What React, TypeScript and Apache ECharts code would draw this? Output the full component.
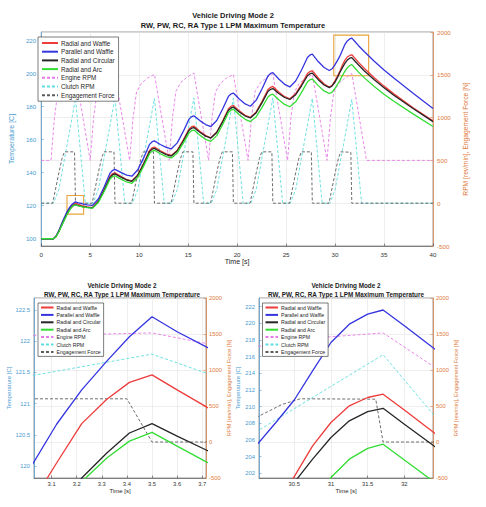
import React, { useEffect, useRef } from 'react';
import * as echarts from 'echarts';

// ---------- DATA ----------
const seriesNames = ['Radial and Waffle', 'Parallel and Waffle', 'Radial and Circular', 'Radial and Arc', 'Engine RPM', 'Clutch RPM', 'Engagement Force'];

const tempTime = [0, 1.25, 1.5, 1.8, 2.2, 2.6, 2.9, 3.02, 3.12, 3.22, 3.32, 3.41, 3.5, 3.6, 3.72, 4.2, 4.7, 5.23,
  5.83, 6.43, 7.03, 7.3, 7.53, 8.13, 8.73, 9.26,
  9.86, 10.46, 11.06, 11.33, 11.56, 12.16, 12.76, 13.29,
  13.89, 14.49, 15.09, 15.36, 15.59, 16.19, 16.79, 17.32,
  17.92, 18.52, 19.12, 19.39, 19.62, 20.22, 20.82, 21.35,
  21.95, 22.55, 23.15, 23.42, 23.65, 24.25, 24.85, 25.38,
  25.98, 26.58, 27.18, 27.45, 27.68, 28.28, 28.88, 29.41,
  29.7, 30.0, 30.25, 30.5, 30.75, 31.0, 31.25, 31.5, 31.71, 32.0, 32.4, 33, 34, 35, 36, 38, 40];

const radialWaffle = [100, 100, 101.3, 104.6, 110.0, 115.2, 118.3, 119.4, 120.05, 120.68, 121.07, 121.34, 121.46, 121.22, 120.94, 119.95, 119.3, 118.9,
  122.7, 129.9, 137.9, 139.5, 140.0, 137.8, 135.9, 135.0,
  138.7, 145.7, 153.5, 155.1, 155.6, 153.3, 151.4, 150.5,
  153.7, 159.8, 166.5, 167.9, 168.3, 165.1, 162.5, 161.2,
  164.7, 171.4, 178.8, 180.3, 180.8, 177.5, 174.8, 173.5,
  176.9, 183.3, 190.4, 191.8, 192.3, 188.9, 186.1, 184.8,
  187.9, 193.6, 200.1, 201.4, 201.8, 197.4, 193.8, 192.0,
  193.0, 195.8, 198.6, 201.6, 205.3, 208.1, 210.1, 211.1, 211.5, 209.6, 206.9, 203.2, 197.6, 192.5, 187.8, 179.2, 171.5];

const parallelWaffle = [100, 100, 101.5, 105.0, 110.8, 116.0, 119.0, 120.0, 120.67, 121.22, 121.68, 122.07, 122.39, 122.15, 121.9, 121.1, 120.5, 120.2,
  124.1, 131.5, 139.8, 141.5, 142.0, 140.2, 138.6, 137.9,
  141.8, 149.0, 157.2, 158.8, 159.3, 157.1, 155.4, 154.5,
  158.1, 164.9, 172.5, 174.0, 174.5, 171.6, 169.2, 168.0,
  171.7, 178.6, 186.3, 187.8, 188.3, 184.7, 181.7, 180.3,
  184.0, 190.9, 198.7, 200.2, 200.7, 196.8, 193.6, 192.0,
  195.6, 202.3, 209.9, 211.4, 211.9, 207.4, 203.8, 202.0,
  203.0, 205.5, 208.1, 210.8, 214.3, 217.7, 219.9, 221.1, 221.6, 219.7, 217.0, 213.3, 207.6, 202.3, 197.4, 188.0, 179.0];

const radialCircular = [100, 100, 101.2, 104.4, 109.6, 114.6, 117.6, 118.6, 119.25, 119.81, 120.21, 120.53, 120.68, 120.48, 120.25, 119.5, 119.0, 118.7,
  122.4, 129.4, 137.2, 138.8, 139.3, 137.3, 135.6, 134.8,
  138.4, 145.2, 152.8, 154.3, 154.8, 152.7, 151.0, 150.1,
  153.2, 159.1, 165.7, 167.0, 167.4, 164.5, 162.2, 161.0,
  164.4, 170.8, 177.9, 179.3, 179.8, 176.8, 174.4, 173.2,
  176.4, 182.5, 189.2, 190.6, 191.0, 188.0, 185.6, 184.4,
  187.3, 192.7, 198.8, 200.0, 200.4, 196.4, 193.2, 191.6,
  192.6, 195.0, 197.8, 200.9, 203.7, 206.3, 208.3, 209.4, 209.8, 207.9, 205.3, 201.7, 196.4, 191.5, 187.0, 178.8, 171.0];

const radialArc = [100, 100, 101.1, 104.2, 109.3, 114.3, 117.3, 118.4, 119.15, 119.75, 120.13, 120.40, 120.54, 120.32, 120.06, 119.3, 118.8, 118.5,
  122.0, 128.7, 136.2, 137.7, 138.2, 136.1, 134.4, 133.6,
  137.2, 144.0, 151.6, 153.1, 153.6, 151.5, 149.8, 149.0,
  152.0, 157.8, 164.2, 165.5, 165.9, 162.8, 160.2, 159.0,
  162.5, 169.1, 176.6, 178.0, 178.5, 175.1, 172.4, 171.0,
  174.0, 179.6, 185.9, 187.2, 187.6, 184.2, 181.4, 180.0,
  183.0, 188.7, 195.1, 196.4, 196.8, 192.8, 189.6, 188.0,
  188.9, 191.2, 193.5, 196.0, 198.9, 201.5, 203.7, 205.0, 205.5, 203.6, 201.0, 197.5, 192.3, 187.6, 183.3, 175.5, 168.0];

const engineTime = [0, 1.0, 1.35, 1.7, 2.2, 2.8, 3.2, 3.5,
  5.0, 5.35, 5.7, 6.2, 6.8, 7.53,
  9.03, 9.38, 9.73, 10.23, 10.83, 11.56,
  13.06, 13.41, 13.76, 14.26, 14.86, 15.59,
  17.09, 17.44, 17.79, 18.29, 18.89, 19.62,
  21.12, 21.47, 21.82, 22.32, 22.92, 23.65,
  25.15, 25.5, 25.85, 26.35, 26.95, 27.68,
  29.18, 29.53, 29.88, 30.38, 30.98, 31.71, 33.21, 40];
const engineRpm = [500, 500, 1000, 1300, 1400, 1460, 1490, 1515,
  500, 1000, 1300, 1400, 1455, 1500,
  500, 1000, 1300, 1400, 1460, 1505,
  500, 1010, 1310, 1410, 1470, 1520,
  500, 1000, 1300, 1400, 1460, 1505,
  500, 1000, 1300, 1400, 1460, 1510,
  500, 1000, 1300, 1400, 1455, 1505,
  500, 1000, 1300, 1400, 1460, 1515, 500, 500];

const clutchTime = [0, 1.25, 1.8, 3.5, 4.5,
  5.28, 5.83, 7.53, 8.53,
  9.31, 9.86, 11.56, 12.56,
  13.34, 13.89, 15.59, 16.59,
  17.37, 17.92, 19.62, 20.62,
  21.4, 21.95, 23.65, 24.65,
  25.43, 25.98, 27.68, 28.68,
  29.46, 30.01, 31.71, 32.71, 40];
const clutchRpm = [0, 0, 160, 1220, 0,
  0, 160, 1230, 0,
  0, 160, 1225, 0,
  0, 160, 1230, 0,
  0, 160, 1225, 0,
  0, 160, 1230, 0,
  0, 160, 1225, 0,
  0, 160, 1212, 0, 0];

const forceTime = [0, 1.17, 1.81, 2.12, 2.37, 3.4, 3.5,
  5.2, 5.84, 6.15, 6.4, 7.43, 7.53,
  9.23, 9.87, 10.18, 10.43, 11.46, 11.56,
  13.26, 13.9, 14.21, 14.46, 15.49, 15.59,
  17.29, 17.93, 18.24, 18.49, 19.52, 19.62,
  21.32, 21.96, 22.27, 22.52, 23.55, 23.65,
  25.35, 25.99, 26.3, 26.55, 27.58, 27.68,
  29.38, 30.02, 30.33, 30.58, 31.61, 31.71, 40];
const engagementForce = [0, 0, 360, 520, 600, 600, 0,
  0, 360, 520, 600, 600, 0,
  0, 360, 520, 600, 600, 0,
  0, 360, 520, 600, 600, 0,
  0, 360, 520, 600, 600, 0,
  0, 360, 520, 600, 600, 0,
  0, 360, 520, 600, 600, 0,
  0, 360, 520, 600, 595, 0, 0];

// tick labels
const mainTimeTicks = [0, 5, 10, 15, 20, 25, 30, 35, 40];
const mainTempTicks = [100, 120, 140, 160, 180, 200, 220];
const rightTicks = [-500, 0, 500, 1000, 1500, 2000];
const zoom1TimeTicks = [3.1, 3.2, 3.3, 3.4, 3.5, 3.6, 3.7];
const zoom1TempTicks = [120, 120.5, 121, 121.5, 122, 122.5];
const zoom2TimeTicks = [30.5, 31, 31.5, 32];
const zoom2TempTicks = [202, 204, 206, 208, 210, 212, 214, 216, 218, 220, 222];

// axis ranges [time min, time max, temp min, temp max]
const mainRange = [0, 40, 95.6, 225.3];
const zoom1Range = [3.03, 3.715, 119.81, 122.69];
const zoom2Range = [30.02, 32.39, 201.44, 223.04];

// zoom boxes drawn on the main plot: [t0, T0, t1, T1]
const zoomBoxes = [[2.63, 126.2, 4.33, 114.9], [29.87, 223.4, 33.43, 198.8]];

// ---------- STYLE ----------
const FONT = '"Liberation Sans", Arial, Helvetica, sans-serif';
const LEFT_C = '#4a9bd1';
const RIGHT_C = '#e07a3c';
const AXIS_C = '#404040';
const GRID_C = '#e3e3e3';
const lineColors = ['#ee3b3b', '#3535e0', '#262626', '#33dd33', '#e67ae6', '#5edede', '#5c5c5c'];

const zip = (xs: number[], ys: number[]) => xs.map((x, i) => [x, ys[i]]);
const plainNum = (v: number) => String(v);

const panels = [
  {
    grid: { left: 33, top: 32, width: 400, height: 214 },
    range: mainRange, xTicks: mainTimeTicks, yTicks: mainTempTicks,
    fs: 6.2, nameFs: 7, xNameGap: 12, xLabelMargin: 5, leftNameGap: 17, rightNameGap: 22, leftMargin: 5, rightMargin: 4,
    title: { x: 233, y1: 15, y2: 25.7, fs: 7.5 },
    legend: { left: 38, top: 37, itemWidth: 16, itemHeight: 8, fs: 6.3, lh: 8, gap: 0.7, pad: [2, 4, 2, 3] },
  },
  {
    grid: { left: 34, top: 298, width: 172, height: 180 },
    range: zoom1Range, xTicks: zoom1TimeTicks, yTicks: zoom1TempTicks,
    fs: 5.8, nameFs: 6, xNameGap: 10, xLabelMargin: 2.5, leftNameGap: 19, rightNameGap: 18, leftMargin: 4, rightMargin: 3,
    title: { x: 122, y1: 285, y2: 294.3, fs: 6.35 },
    legend: { left: 38, top: 303, itemWidth: 12.5, itemHeight: 6, fs: 5.2, lh: 7, gap: 0.4, pad: [1, 3, 1, 2] },
  },
  {
    grid: { left: 259, top: 298, width: 174, height: 180 },
    range: zoom2Range, xTicks: zoom2TimeTicks, yTicks: zoom2TempTicks,
    fs: 5.8, nameFs: 6, xNameGap: 10, xLabelMargin: 2.5, leftNameGap: 13, rightNameGap: 17, leftMargin: 4, rightMargin: 3,
    title: { x: 346, y1: 285, y2: 294.3, fs: 6.35 },
    legend: { left: 262.5, top: 303, itemWidth: 12.5, itemHeight: 6, fs: 5.2, lh: 7, gap: 0.4, pad: [1, 3, 1, 2] },
  },
];

function buildOption() {
  const grid: any[] = [];
  const xAxis: any[] = [];
  const yAxis: any[] = [];
  const series: any[] = [];
  const legend: any[] = [];
  const graphic: any[] = [];

  const tempSeries = [radialWaffle, parallelWaffle, radialCircular, radialArc];
  const rpmSeries = [zip(engineTime, engineRpm), zip(clutchTime, clutchRpm), zip(forceTime, engagementForce)];

  panels.forEach((p, i) => {
    const [x0, x1, y0, y1] = p.range;
    grid.push({ ...p.grid, show: true, borderColor: '#5a5a5a', borderWidth: 0.6, backgroundColor: '#fff', containLabel: false });
    xAxis.push({
      gridIndex: i, type: 'value', min: x0, max: x1,
      name: 'Time [s]', nameLocation: 'middle', nameGap: p.xNameGap,
      nameTextStyle: { fontSize: p.nameFs, color: '#262626', fontFamily: FONT },
      axisLine: { onZero: false, lineStyle: { color: AXIS_C, width: 0.6 } },
      axisTick: { inside: true, length: 2.5, customValues: p.xTicks, lineStyle: { color: AXIS_C, width: 0.6 } },
      axisLabel: { customValues: p.xTicks, fontSize: p.fs, color: '#333', margin: p.xLabelMargin, fontFamily: FONT, formatter: plainNum },
      splitLine: { show: true, lineStyle: { color: GRID_C, width: 0.6 } },
    });
    yAxis.push({
      gridIndex: i, type: 'value', position: 'left', min: y0, max: y1,
      name: 'Temperature [C]', nameLocation: 'middle', nameGap: p.leftNameGap,
      nameTextStyle: { fontSize: p.nameFs, color: LEFT_C, fontFamily: FONT },
      axisLine: { show: true, onZero: false, lineStyle: { color: LEFT_C, width: 0.7 } },
      axisTick: { show: true, inside: true, length: 2.5, customValues: p.yTicks, lineStyle: { color: LEFT_C, width: 0.6 } },
      axisLabel: { customValues: p.yTicks, fontSize: p.fs, color: LEFT_C, margin: p.leftMargin, fontFamily: FONT, formatter: plainNum },
      splitLine: { show: false },
    });
    yAxis.push({
      gridIndex: i, type: 'value', position: 'right', min: -500, max: 2000, interval: 500,
      name: 'RPM [rev/min], Engagement Force [N]', nameLocation: 'middle', nameGap: p.rightNameGap,
      nameTextStyle: { fontSize: p.nameFs - 0.3, color: RIGHT_C, fontFamily: FONT },
      axisLine: { show: true, onZero: false, lineStyle: { color: RIGHT_C, width: 0.7 } },
      axisTick: { show: true, inside: true, length: 2.5, lineStyle: { color: RIGHT_C, width: 0.6 } },
      axisLabel: { customValues: rightTicks, fontSize: p.fs, color: RIGHT_C, margin: p.rightMargin, fontFamily: FONT, formatter: plainNum },
      splitLine: { show: true, lineStyle: { color: GRID_C, width: 0.6 } },
    });

    // dashed RPM / force series (right axis)
    rpmSeries.forEach((d, j) => {
      series.push({
        type: 'line', name: seriesNames[4 + j], xAxisIndex: i, yAxisIndex: 2 * i + 1,
        data: d, symbol: 'none', showSymbol: false, clip: true, z: 2,
        lineStyle: { color: lineColors[4 + j], width: 0.9, type: [3, 2] },
        itemStyle: { color: lineColors[4 + j] },
      });
    });
    // temperature series (left axis)
    tempSeries.forEach((vals, j) => {
      const s: any = {
        type: 'line', name: seriesNames[j], xAxisIndex: i, yAxisIndex: 2 * i,
        data: zip(tempTime, vals), symbol: 'none', showSymbol: false, clip: true, z: 3,
        lineStyle: { color: lineColors[j], width: 1.3 },
        itemStyle: { color: lineColors[j] },
      };
      if (i === 0 && j === 0) {
        s.markArea = {
          silent: true,
          itemStyle: { color: 'rgba(0,0,0,0)', borderColor: '#eaa23a', borderWidth: 1.1 },
          data: zoomBoxes.map((b) => [{ coord: [b[0], b[1]] }, { coord: [b[2], b[3]] }]),
        };
      }
      series.push(s);
    });

    legend.push({
      show: true, orient: 'vertical', left: p.legend.left, top: p.legend.top,
      data: seriesNames, selectedMode: false,
      itemWidth: p.legend.itemWidth, itemHeight: p.legend.itemHeight, itemGap: p.legend.gap,
      itemStyle: { opacity: 0, borderWidth: 0 },
      padding: p.legend.pad, backgroundColor: '#fff', borderColor: '#262626', borderWidth: 0.6,
      textStyle: { fontSize: p.legend.fs, lineHeight: p.legend.lh, color: '#262626', fontFamily: FONT, padding: [0, 0, 0, -2] },
    });

    graphic.push({
      type: 'text', x: p.title.x, y: p.title.y1, silent: true,
      style: { text: 'Vehicle Driving Mode 2', fill: '#1a1a1a', fontSize: p.title.fs, fontWeight: 'bold', fontFamily: FONT, align: 'center', verticalAlign: 'middle' },
    });
    graphic.push({
      type: 'text', x: p.title.x, y: p.title.y2, silent: true,
      style: { text: 'RW, PW, RC, RA Type 1 LPM Maximum Temperature', fill: '#1a1a1a', fontSize: p.title.fs, fontWeight: 'bold', fontFamily: FONT, align: 'center', verticalAlign: 'middle' },
    });
  });

  return {
    animation: false,
    backgroundColor: '#fff',
    textStyle: { fontFamily: FONT },
    grid, xAxis, yAxis, series, legend, graphic,
  };
}

export default function App() {
  const ref = useRef<HTMLDivElement>(null);
  useEffect(() => {
    if (!ref.current) return;
    const chart = echarts.init(ref.current, null, { renderer: 'svg' });
    chart.setOption(buildOption() as any);
    return () => chart.dispose();
  }, []);
  return <div ref={ref} style={{ position: 'absolute', left: 0, top: 0, width: 486, height: 507, background: '#fff' }} />;
}
